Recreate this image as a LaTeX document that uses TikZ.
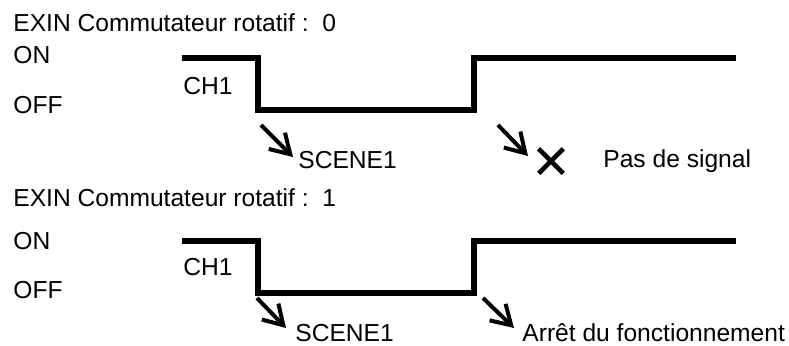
\documentclass[tikz,border=0pt]{standalone}
\usepackage{fontspec}
\setmainfont{Liberation Sans}
\usepackage{tikz}
\usetikzlibrary{arrows.meta, shapes.misc}

\begin{document}
\begin{tikzpicture}[
        x=0.5pt, y=0.5pt,
        font=\fontsize{12.3}{14}\selectfont,
        >={Straight Barb[length=9.5pt, width=11.5pt]},
        lbl/.style={inner sep=0pt, anchor=base west},
        wave/.style={line width=2.6pt, line join=miter},
        pointer/.style={->, line width=2pt},
        xmark/.style={cross out, draw, line width=2.3pt, inner sep=0pt, minimum size=10pt}
    ]
        \useasboundingbox (0,0) rectangle (789,345);

        % Rotary switch 0
        \node[lbl] (title0) at (13,313.5) {EXIN Commutateur rotatif :\ \ 0};
        \node[lbl] (on0) at (13,282) {ON};
        \node[lbl] (off0) at (13,232) {OFF};
        \node[lbl] (ch0) at (183,251) {CH1};
        \draw[wave] (182,287) -- (258,287) -- (258,235) -- (474,235) -- (474,287) -- (736,287);

        \coordinate (fall0) at (261,220);
        \coordinate (rise0) at (498,220);
        \node[lbl] (scene0) at (298,177) {SCENE1};
        \node[xmark] (nosig) at (551,184) {};
        \node[lbl] (nosigtxt) at (603,178) {Pas de signal};
        \coordinate (scene0tip) at (293,188);
        \coordinate (nosigtip) at (528,189);
        \draw[pointer] (fall0) -- (scene0tip);
        \draw[pointer] (rise0) -- (nosigtip);

        % Rotary switch 1
        \node[lbl] (title1) at (13,139) {EXIN Commutateur rotatif :\ \ 1};
        \node[lbl] (on1) at (13,96) {ON};
        \node[lbl] (off1) at (13,47) {OFF};
        \node[lbl] (ch1) at (183,70) {CH1};
        \draw[wave] (182,104) -- (258,104) -- (258,52) -- (474,52) -- (474,104) -- (736,104);

        \coordinate (fall1) at (257,47);
        \coordinate (rise1) at (483,47);
        \node[lbl] (scene1) at (295,4) {SCENE1};
        \node[lbl] (stop1) at (522,4) {Arrêt du fonctionnement};
        \coordinate (scene1tip) at (286,17);
        \coordinate (stop1tip) at (514,17);
        \draw[pointer] (fall1) -- (scene1tip);
        \draw[pointer] (rise1) -- (stop1tip);
\end{tikzpicture}
\end{document}
